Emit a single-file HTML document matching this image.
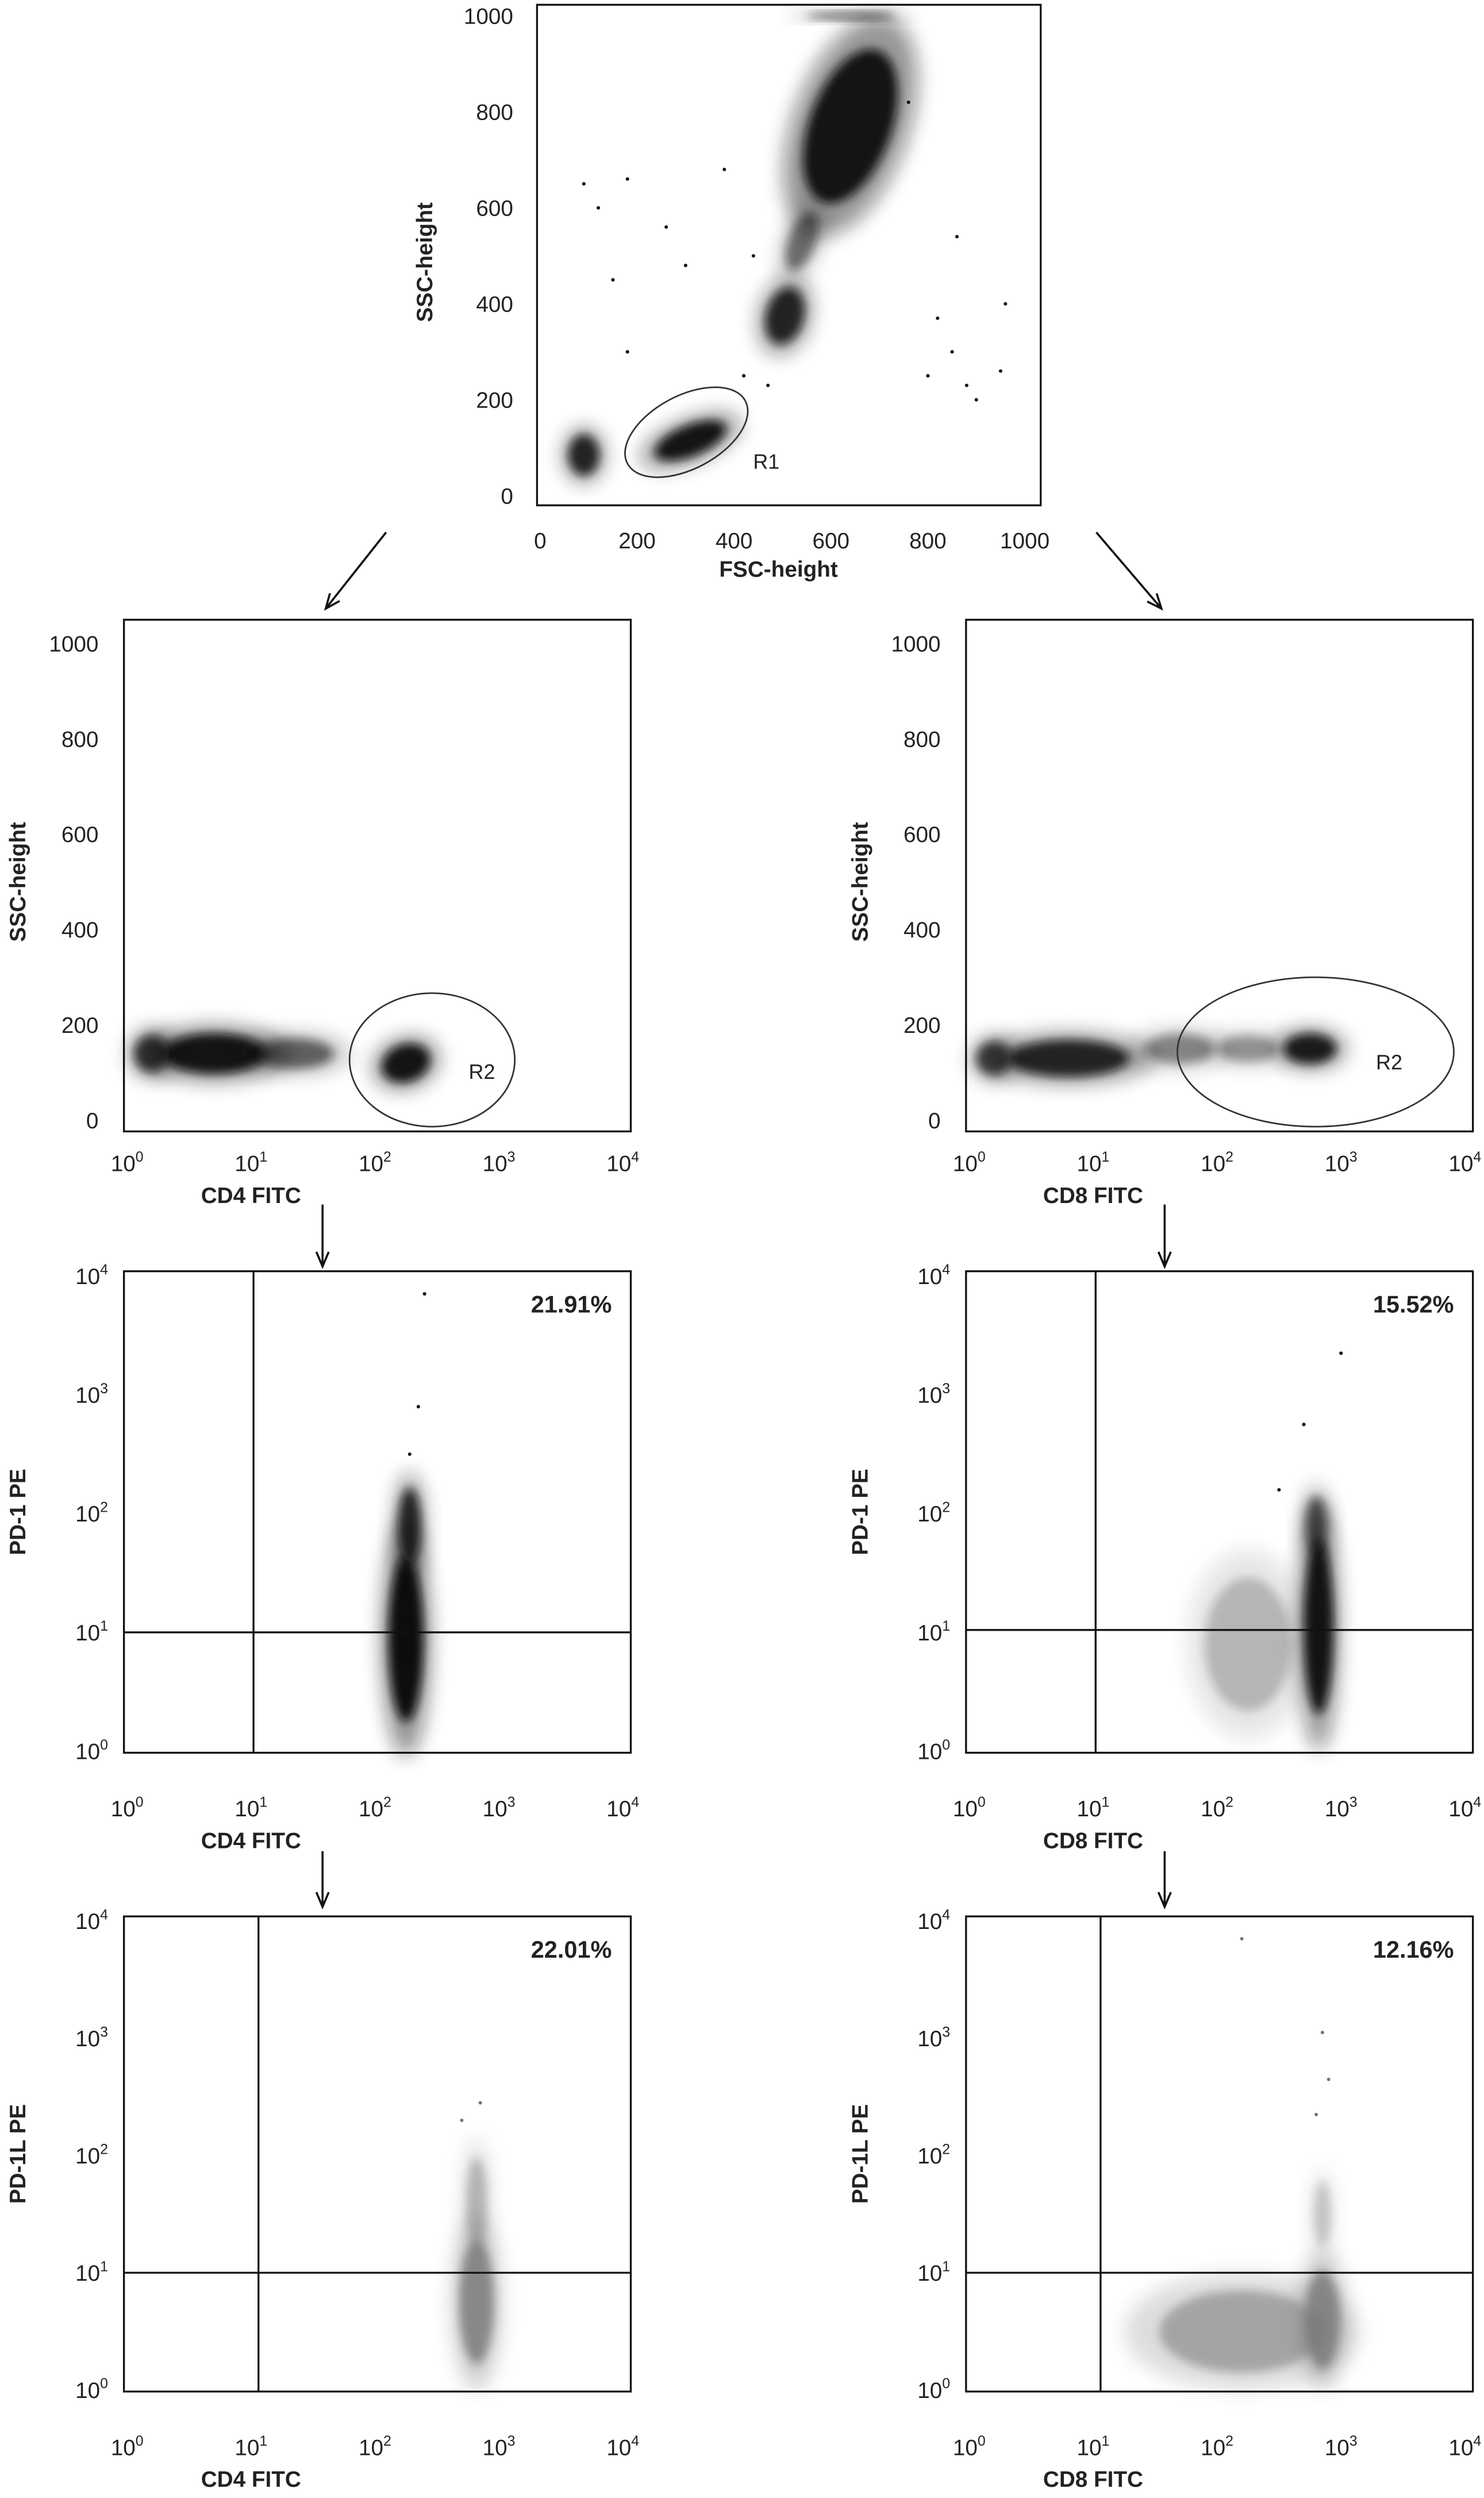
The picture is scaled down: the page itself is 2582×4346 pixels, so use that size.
<!DOCTYPE html>
<html><head><meta charset="utf-8">
<style>
html,body{margin:0;padding:0;background:#fff;}
svg{display:block;}
text{font-family:"Liberation Sans",sans-serif;fill:#222;}
</style></head>
<body>
<svg id="fig" width="2582" height="4346" viewBox="0 0 934 1572" preserveAspectRatio="none" xmlns="http://www.w3.org/2000/svg">
<defs>
<filter id="blur" x="-50%" y="-50%" width="200%" height="200%"><feGaussianBlur stdDeviation="3"/></filter>
<filter id="blur2" x="-50%" y="-50%" width="200%" height="200%"><feGaussianBlur stdDeviation="6"/></filter>
</defs>
</svg>
<script>
// ---- data ----
const panelIds = ['scatter-fsc-ssc','cd4-ssc','cd8-ssc','cd4-pd1','cd8-pd1','cd4-pdl1','cd8-pdl1'];
// clusters: [x, y, spreadX, spreadY, angleDeg, opacity]
const topClusters = [[310,115,110,45,-22,0.95],[90,85,45,60,0,0.85],[505,375,55,85,15,0.85],[640,770,120,240,20,0.95],[540,530,40,90,20,0.5],[640,1000,130,10,0,0.6]];
const topOutliers = [[120,600],[150,450],[90,650],[180,300],[260,560],[300,480],[420,250],[470,230],[800,250],[850,300],[900,200],[880,230],[950,260],[820,370],[180,660],[380,680],[440,500],[760,820],[860,540],[960,400]];
const cd4SscClusters = [[0.7,140,0.6,60,0,0.95],[0.2,140,0.2,55,0,0.75],[1.35,140,0.45,45,0,0.55],[2.25,120,0.28,55,-20,0.95]];
const cd8SscClusters = [[0.8,130,0.7,55,0,0.85],[0.2,130,0.2,50,0,0.7],[1.7,150,0.4,45,0,0.4],[2.75,150,0.3,45,0,0.9],[2.25,150,0.35,40,0,0.35]];
const cd4Pd1Clusters = [[2.25,0.95,0.2,1.0,0,1.0],[2.28,1.9,0.13,0.45,0,0.85]];
const cd8Pd1Clusters = [[2.82,1.05,0.17,1.05,0,0.95],[2.25,0.9,0.5,0.8,0,0.22],[2.8,1.9,0.12,0.35,0,0.6]];
const cd4Pdl1Clusters = [[2.82,0.75,0.2,0.75,0,0.8],[2.82,1.6,0.12,0.55,0,0.45]];
const cd8Pdl1Clusters = [[2.2,0.5,0.95,0.5,0,0.55],[2.85,0.6,0.2,0.6,0,0.8],[2.85,1.5,0.1,0.4,0,0.35]];
const pd1Outliers = [[2.4,3.85],[2.35,2.9],[2.28,2.5]];
const pd1Outliers8 = [[3.0,3.35],[2.7,2.75],[2.5,2.2]];
const pdl1Outliers8 = [[2.2,3.85],[2.85,3.05],[2.9,2.65],[2.8,2.35]];
const pdl1Outliers4 = [[2.85,2.45],[2.7,2.3]];
const linTicks = [0,200,400,600,800,1000];
const logTicks = [0,1,2,3,4];
const percents = ['21.91%','15.52%','22.01%','12.16%'];

const svg = document.getElementById('fig');
const NS = 'http://www.w3.org/2000/svg';
function el(tag, attrs, parent){const e=document.createElementNS(NS,tag);for(const k in attrs)e.setAttribute(k,attrs[k]);(parent||svg).appendChild(e);return e;}

function makePanel(name, box){
  const g = el('g',{});
  
  
  const [bx0,bx1,by0,by1] = box;
  const r = el('rect',{x:bx0,y:by0,width:bx1-bx0,height:by1-by0,fill:'none',stroke:'#111','stroke-width':1.2},g);
  
  
  return {g,box};
}
function ticks(p, xlog, ylog, ylblX, xlblY){
  const g = el('g',{},p.g);
  
  
  const xs = xlog?logTicks:linTicks, ys = ylog?logTicks:linTicks;
  xs.forEach(v=>{
    const t = el('text',{x:p.sx(v),y:xlblY,'font-size':14,'text-anchor':'middle'},g);
    
    
    if(xlog){t.textContent='10';const s=el('tspan',{dy:-6,'font-size':9},t);s.textContent=v;}
    else t.textContent=v;
  });
  ys.forEach(v=>{
    const t = el('text',{x:ylblX,y:p.sy(v)+5,'font-size':14,'text-anchor':'end'},g);
    
    
    if(ylog){t.textContent='10';const s=el('tspan',{dy:-6,'font-size':9},t);s.textContent=v;}
    else t.textContent=v;
  });
}
function label(p, txt, x, y, rot, name){
  const t = el('text',{x:x,y:y,'font-size':14,'font-weight':'bold','text-anchor':'middle',transform:rot?`rotate(-90 ${x} ${y})`:''},p.g);
  
  
  t.textContent = txt;
}
function clusters(p, list, color){
  const g = el('g',{},p.g);
  
  
  list.forEach(c=>{
    const cx=p.sx(c[0]), cy=p.sy(c[1]);
    const rx=Math.abs(p.sx(c[0]+c[2])-p.sx(c[0])), ry=Math.abs(p.sy(c[1]+c[3])-p.sy(c[1]));
    const e1 = el('ellipse',{cx,cy,rx,ry,fill:color,opacity:c[5]*0.45,filter:'url(#blur2)',transform:`rotate(${c[4]} ${cx} ${cy})`},g);
    
    
    const e2 = el('ellipse',{cx,cy,rx:rx*0.7,ry:ry*0.7,fill:color,opacity:c[5],filter:'url(#blur)',transform:`rotate(${c[4]} ${cx} ${cy})`},g);
    
    
  });
}
function dots(p, list, color){
  list.forEach(d=>{
    const c = el('circle',{cx:p.sx(d[0]),cy:p.sy(d[1]),r:1.1,fill:color},p.g);
    
    
  });
}
function quad(p, xv, yv){
  const [bx0,bx1,by0,by1]=p.box;
  const a = el('line',{x1:p.sx(xv),x2:p.sx(xv),y1:by0,y2:by1,stroke:'#111','stroke-width':1.2},p.g);
  
  
  const b = el('line',{x1:bx0,x2:bx1,y1:p.sy(yv),y2:p.sy(yv),stroke:'#111','stroke-width':1.2},p.g);
  
  
}
function pct(p, txt, x, y){
  const t = el('text',{x,y,'font-size':15,'font-weight':'bold','text-anchor':'end'},p.g);
  
  
  t.textContent = txt;
}
function arrow(x1,y1,x2,y2){
  const g = el('g',{});
  
  
  el('line',{x1,y1,x2,y2,stroke:'#111','stroke-width':1.3},g);
  const a=Math.atan2(y2-y1,x2-x1), L=10, w=0.4;
  el('polyline',{points:`${x2-L*Math.cos(a-w)},${y2-L*Math.sin(a-w)} ${x2},${y2} ${x2-L*Math.cos(a+w)},${y2-L*Math.sin(a+w)}`,fill:'none',stroke:'#111','stroke-width':1.3},g);
}
function gate(p, cx, cy, rx, ry, rot, name, lx, ly){
  const e = el('ellipse',{cx,cy,rx,ry,fill:'none',stroke:'#333','stroke-width':1,transform:`rotate(${rot} ${cx} ${cy})`},p.g);
  
  
  const t = el('text',{x:lx,y:ly,'font-size':13},p.g);
  
  
  t.textContent = name;
}

// top panel
const P0 = makePanel(panelIds[0],[338,655,3,318]);
P0.sx = v => 340 + v/1000*305;
P0.sy = v => 312 - v/1000*302;
clusters(P0, topClusters, '#111');
dots(P0, topOutliers, '#111');
gate(P0, 432, 272, 42, 23, -28, 'R1', 474, 295);
ticks(P0,false,false,323,345);
label(P0,'FSC-height',490,363,false,'x-axis-title');
label(P0,'SSC-height',272,165,true,'y-axis-title');
arrow(243,335,205,383); arrow(690,335,731,383);

function midPanel(id,x0,xlab,cl,gateArgs){
  const P = makePanel(id,[x0,x0+319,390,712]);
  P.sx = v => x0+2 + v*78;
  P.sy = v => 705 - v/1000*300;
  clusters(P, cl, '#111');
  gate(P,...gateArgs);
  ticks(P,true,false,x0-16,737);
  label(P,xlab,x0+80,757,false,'x-axis-title');
  label(P,'SSC-height',x0-62,555,true,'y-axis-title');
  return P;
}
midPanel(panelIds[1],78,'CD4 FITC',cd4SscClusters,[272,667,52,42,0,'R2',295,679]);
midPanel(panelIds[2],608,'CD8 FITC',cd8SscClusters,[828,662,87,47,0,'R2',866,673]);
arrow(203,758,203,797); arrow(733,758,733,797);

function logPanel(id,x0,y0,y1,xlab,cl,out,color,qx,qy,pt,ylab){
  const P = makePanel(id,[x0,x0+319,y0,y1]);
  P.sx = v => x0+2 + v*78;
  P.sy = v => (y1-1) - v*((y1-1)-(y0+3))/4;
  clusters(P, cl, color);
  dots(P, out, color);
  quad(P,qx,qy);
  pct(P,pt,x0+307,y0+26);
  ticks(P,true,true,x0-10,y1+40);
  label(P,xlab,x0+80,y1+60,false,'x-axis-title');
  label(P,ylab,x0-62,(y0+y1)/2,true,'y-axis-title');
}
logPanel(panelIds[3],78,800,1103,'CD4 FITC',cd4Pd1Clusters,pd1Outliers,'#111',1.02,1.0,percents[0],'PD-1 PE');
logPanel(panelIds[4],608,800,1103,'CD8 FITC',cd8Pd1Clusters,pd1Outliers8,'#111',1.02,1.02,percents[1],'PD-1 PE');
arrow(203,1165,203,1200); arrow(733,1165,733,1200);
logPanel(panelIds[5],78,1206,1505,'CD4 FITC',cd4Pdl1Clusters,pdl1Outliers4,'#777',1.06,1.0,percents[2],'PD-1L PE');
logPanel(panelIds[6],608,1206,1505,'CD8 FITC',cd8Pdl1Clusters,pdl1Outliers8,'#777',1.06,1.0,percents[3],'PD-1L PE');
</script>
</body></html>
